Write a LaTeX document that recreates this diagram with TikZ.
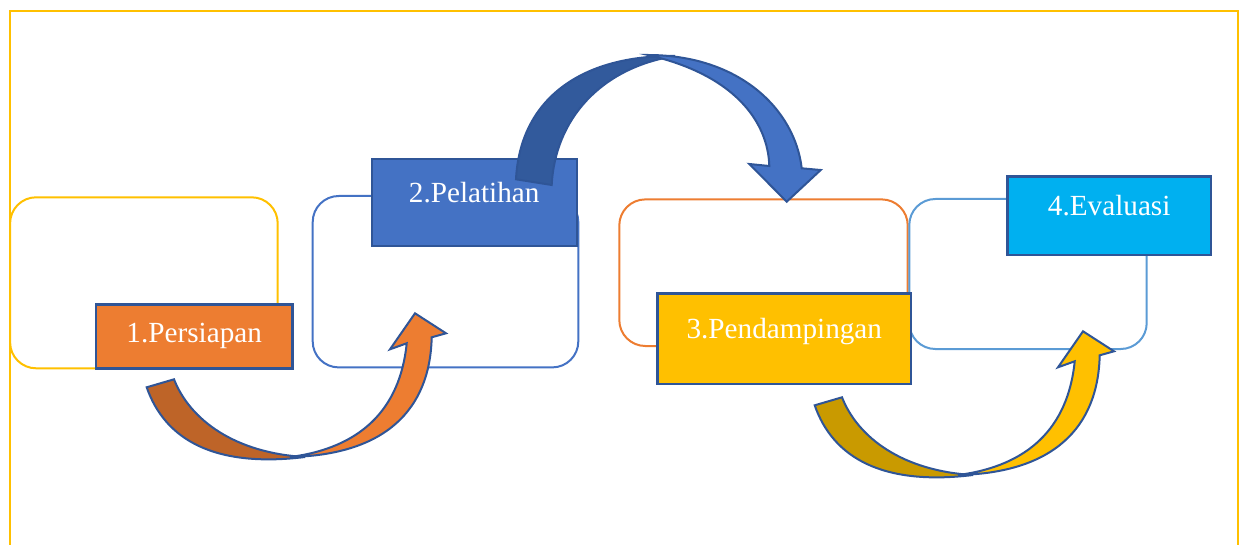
\documentclass[tikz,border=0pt]{standalone}
\usepackage{fontspec}
\setmainfont{Liberation Serif}
\newfontfamily\stagefont{Liberation Serif}

\definecolor{frameyellow}{HTML}{FFC000}
\definecolor{boxblue}{HTML}{4472C4}
\definecolor{boxorange}{HTML}{ED7D31}
\definecolor{boxsky}{HTML}{5B9BD5}
\definecolor{edgeblue}{HTML}{2F5597}
\definecolor{evalcyan}{HTML}{00B0F0}
\definecolor{orangeback}{HTML}{BE6428}
\definecolor{goldback}{HTML}{C99A00}
\definecolor{blueback}{HTML}{325A9C}

\tikzset{
  roundbox/.style={draw=#1, line width=1pt, rounded corners=13pt, rectangle},
  stagebox/.style={fill=#1, draw=edgeblue, line width=1.2pt, rectangle, inner sep=0pt,
    text=white, font=\stagefont\fontsize{14.6}{16}\selectfont, text height=0pt, text depth=0pt},
  bandline/.style={draw=edgeblue, line width=1pt, line join=miter}
}

\begin{document}
\begin{tikzpicture}[x=0.5pt, y=-0.5pt]
    \useasboundingbox (0,0) rectangle (1245,545);
    % frame, open at the bottom
    \draw[frameyellow, line width=1pt] (9.5,550) |- (1237.7,11) -- (1237.7,550);

    % rounded boxes
    \node[roundbox=frameyellow, minimum width=133.8pt, minimum height=85.5pt] (box1) at (143.9,282.8) {};
    \node[roundbox=boxblue, minimum width=132.8pt, minimum height=85.7pt] (box2) at (445.5,281.7) {};
    \node[roundbox=boxorange, minimum width=144.2pt, minimum height=73.3pt] (box3) at (763.5,272.7) {};
    \node[roundbox=boxsky, minimum width=118.7pt, minimum height=75pt] (box4) at (1028,274) {};

    % stage labels
    \node[stagebox=boxorange, minimum width=98.2pt, minimum height=32pt, text height=6pt] (lab1) at (194.2,336.3) {1.Persiapan\hspace{8pt}};
    \node[stagebox=boxblue, minimum width=102.5pt, minimum height=43.2pt] (lab2) at (474.2,202.5) {2.Pelatihan};
    \node[stagebox=frameyellow, minimum width=126.7pt, minimum height=45.3pt] (lab3) at (784.3,338.7) {3.Pendampingan};
    \node[stagebox=evalcyan, minimum width=101.8pt, minimum height=39.2pt] (lab4) at (1109.2,215.8) {4.Evaluasi};

    % curved up arrows
    \foreach \dx/\dy/\back/\front in {0/0/orangeback/boxorange, 668/18/goldback/frameyellow}{
      \begin{scope}[shift={(\dx,\dy)}]
        \path[bandline, fill=\back] (146.7,387.3) .. controls (165,440) and (215,468) .. (305,457)
          .. controls (235,453) and (190,420) .. (174,379.3) -- cycle;
        \path[bandline, fill=\front] (290,457) .. controls (360,448) and (400,410) .. (406.7,343.3)
          -- (390,349.3) -- (415,313.3) -- (446,333.3) -- (431.7,337.3)
          .. controls (430,410) and (385,455) .. (290,457) -- cycle;
      \end{scope}
    }

    % curved down arrow
    \path[bandline, fill=blueback] (516,179.3) .. controls (520,100) and (580,55) .. (675,56)
      .. controls (600,68) and (555,120) .. (551.7,185) -- cycle;
    \path[bandline, fill=boxblue] (648,55) .. controls (740,55) and (795,110) .. (801.7,168.3)
      -- (820.7,170) -- (786.7,201.7) -- (749.3,164) -- (769.3,166)
      .. controls (768,122) and (735,75) .. (648,55) -- cycle;
\end{tikzpicture}
\end{document}
